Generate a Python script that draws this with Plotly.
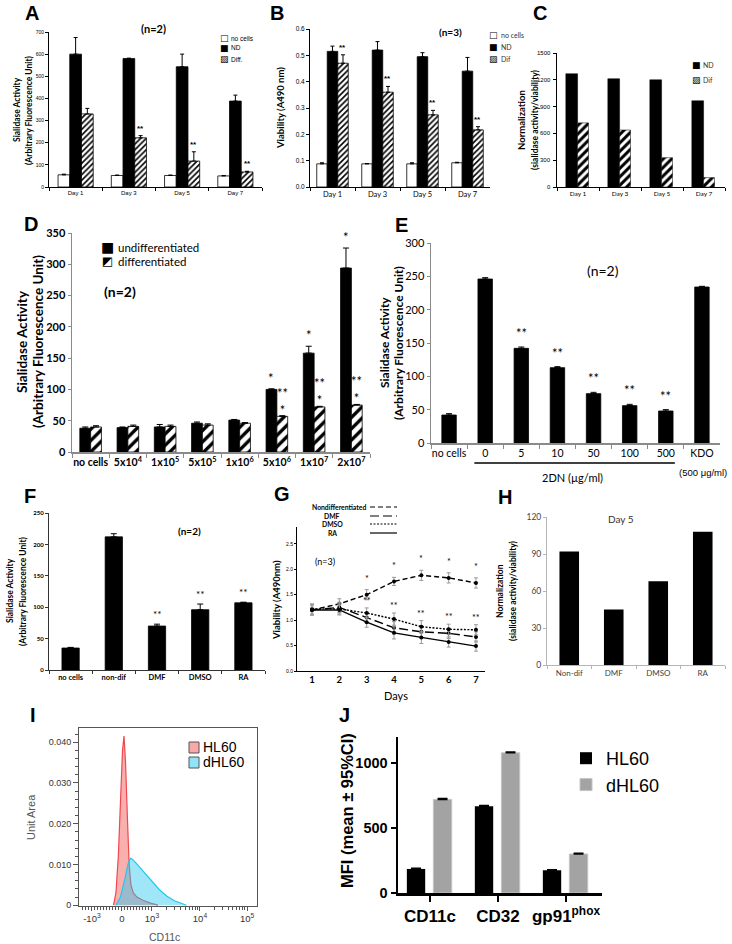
import math
import plotly.graph_objects as go

W, H = 732, 944
ARIAL = "Liberation Sans, Arial, sans-serif"
CAL = "Lato, Liberation Sans, sans-serif"
DJV = "DejaVu Sans, sans-serif"

# ---------------- data ----------------
days = ["Day 1", "Day 3", "Day 5", "Day 7"]
a_nocells = [55, 52, 52, 50]
a_nocells_err = [3, 2, 2, 2]
a_nd = [600, 580, 543, 388]
a_nd_err = [75, 2, 57, 27]
a_diff = [330, 222, 117, 68]
a_diff_err = [25, 10, 42, 3]
a_sig = ["", "**", "**", "**"]

b_nocells = [0.088, 0.088, 0.088, 0.092]
b_nocells_err = [0.004, 0.001, 0.004, 0.002]
b_nd = [0.515, 0.52, 0.495, 0.44]
b_nd_err = [0.02, 0.032, 0.015, 0.052]
b_dif = [0.47, 0.36, 0.274, 0.217]
b_dif_err = [0.032, 0.022, 0.017, 0.012]
b_sig = ["**", "**", "**", "**"]

c_nd = [1268, 1212, 1200, 965]
c_dif = [718, 638, 328, 105]
c_ticks = [0, 300, 600, 900, 1200, 1500]

d_cats = ["no cells", "5x10<sup>4</sup>", "1x10<sup>5</sup>", "5x10<sup>5</sup>",
          "1x10<sup>6</sup>", "5x10<sup>6</sup>", "1x10<sup>7</sup>", "2x10<sup>7</sup>"]
d_undiff = [38, 39, 40, 46, 51, 100, 158, 294]
d_undiff_err = [2, 1, 4, 2, 1, 1, 11, 32]
d_diff = [40, 41, 41, 43, 46, 57, 72, 75]
d_diff_err = [2, 2, 2, 2, 1, 1, 1, 1]
d_sig_u = ["", "", "", "", "", "*", "*", "*"]
d_sig_d = ["", "", "", "", "", "**<br>*", "**<br>*", "**<br>*"]

e_cats = ["no cells", "0", "5", "10", "50", "100", "500", "KDO"]
e_kdo_note = "(500 μg/ml)"
e_vals = [42, 246, 142, 113, 74, 56, 48, 234]
e_err = [2, 2, 2, 1.5, 2, 2, 2, 1]
e_sig = ["", "", "**", "**", "**", "**", "**", ""]

f_cats = ["no cells", "non-dif", "DMF", "DMSO", "RA"]
f_vals = [35, 212, 70, 96, 107]
f_err = [1, 5, 3, 9, 1]
f_sig = ["", "", "**", "**", "**"]

g_days = [1, 2, 3, 4, 5, 6, 7]
g_nondiff = [1.2, 1.32, 1.5, 1.76, 1.88, 1.83, 1.73]
g_nondiff_err = [0.1, 0.1, 0.1, 0.08, 0.1, 0.1, 0.1]
g_dmf = [1.2, 1.25, 1.05, 0.85, 0.77, 0.74, 0.67]
g_dmso = [1.22, 1.22, 1.14, 1.02, 0.87, 0.82, 0.81]
g_ra = [1.2, 1.2, 0.96, 0.75, 0.66, 0.57, 0.49]
g_err = [0.1, 0.1, 0.1, 0.12, 0.12, 0.1, 0.1]
g_sig_nd = ["", "", "*", "*", "*", "*", "*"]
g_sig_dmso = ["", "", "**", "**", "**", "**", "**"]

h_cats = ["Non-dif", "DMF", "DMSO", "RA"]
h_vals = [92, 45, 68, 108]

# CD11c histograms (display coordinate of the biexponential axis, unit area)
i_hl60_x = [-0.28, -0.2, -0.12, -0.05, 0.02, 0.07, 0.12, 0.18, 0.24, 0.3, 0.38, 0.5, 0.7, 0.95, 1.2]
i_hl60_y = [0, 0.003, 0.012, 0.026, 0.038, 0.0415, 0.035, 0.022, 0.010, 0.005, 0.003, 0.002, 0.0012, 0.0005, 0]
i_dhl60_x = [-0.2, -0.05, 0.1, 0.2, 0.28, 0.35, 0.45, 0.6, 0.8, 1.0, 1.25, 1.5, 1.75, 2.0, 2.15]
i_dhl60_y = [0, 0.002, 0.0065, 0.0100, 0.0115, 0.0113, 0.0105, 0.0092, 0.0075, 0.0058, 0.0038, 0.0022, 0.0011, 0.0004, 0]
i_tickvals = [-1, 0, 1, 2.6, 4.17]
i_ticktext = ["-10<sup>3</sup>", "0", "10<sup>3</sup>", "10<sup>4</sup>", "10<sup>5</sup>"]

j_cats = ["CD11c", "CD32", "gp91<sup>phox</sup>"]
j_hl60 = [185, 668, 175]
j_hl60_err = [5, 5, 4]
j_dhl60 = [720, 1078, 300]
j_dhl60_err = [7, 7, 6]

# ---------------- helpers ----------------
fig = go.Figure()
layout = {}
ann = []
shapes = []


def xid(n):
    return "x" if n == 1 else f"x{n}"


def yid(n):
    return "y" if n == 1 else f"y{n}"


def axes(n, x0, x1, top, bottom, xkw, ykw):
    xs = "xaxis" if n == 1 else f"xaxis{n}"
    ys = "yaxis" if n == 1 else f"yaxis{n}"
    common = dict(showgrid=False, zeroline=False, automargin=False, ticklabeloverflow="allow", fixedrange=True)
    layout[xs] = dict(domain=[x0 / W, x1 / W], anchor=yid(n), **common, **xkw)
    layout[ys] = dict(domain=[1 - bottom / H, 1 - top / H], anchor=xid(n), **common, **ykw)


def text(x, y, s, size, family=ARIAL, color="black", bold=False, angle=0, xanchor="center", yanchor="middle"):
    ann.append(dict(x=x / W, y=1 - y / H, xref="paper", yref="paper", text=s, showarrow=False,
                    font=dict(size=size, family=family, color=color, weight="bold" if bold else "normal"),
                    textangle=angle, xanchor=xanchor, yanchor=yanchor))


def bar(n, x, y, err, width, offset, color="black", pattern=None, lw=0.8, ew=2):
    kw = {}
    if err is not None:
        kw["error_y"] = dict(type="data", array=err, arrayminus=[0] * len(err), symmetric=False,
                             color="black", thickness=1, width=ew)
    marker = dict(color=color, line=dict(color="black", width=lw))
    if pattern:
        marker["pattern"] = pattern
    fig.add_trace(go.Bar(x=x, y=y, width=width, offset=offset, xaxis=xid(n), yaxis=yid(n),
                         marker=marker, showlegend=False, **kw))


def sig(n, centers, tops, labels, size, family=ARIAL, bold=False, yshift=1):
    for xc, yt, s in zip(centers, tops, labels):
        if s:
            ann.append(dict(x=xc, y=yt, xref=xid(n), yref=yid(n), text=s, showarrow=False,
                            yanchor="bottom", yshift=yshift,
                            font=dict(size=size, family=family, color="black",
                                      weight="bold" if bold else "normal")))


def cat_axis(size, family=ARIAL, lc="black", lw=1, bold=False, color="black", tickson="boundaries", ticklen=3):
    return dict(type="category", showline=True, linecolor=lc, linewidth=lw, ticks="outside",
                tickson=tickson, ticklen=ticklen, tickcolor=lc, tickangle=0,
                tickfont=dict(size=size, family=family, color=color, weight="bold" if bold else "normal"))


def val_axis(rng, step, size, family=ARIAL, lc="black", lw=1, bold=False, color="black", ticklen=3, fmt=None):
    vals = []
    v = rng[0]
    while v <= rng[1] + 1e-9:
        vals.append(round(v, 6))
        v += step
    labels = [(format(t, fmt) if fmt else f"{t:g}") for t in vals]
    return dict(range=rng, tickvals=vals, ticktext=labels, showline=True, linecolor=lc, linewidth=lw,
                ticks="outside", ticklen=ticklen, tickcolor=lc, showticklabels=True,
                tickfont=dict(size=size, family=family, color=color, weight="bold" if bold else "normal"))


fine_hatch = dict(shape="/", fgcolor="black", bgcolor="white", size=4, solidity=0.4)
bold_hatch = dict(shape="/", fgcolor="black", bgcolor="white", size=6, solidity=0.5)

# ---------------- Panel A ----------------
bar(1, days, a_nocells, a_nocells_err, 0.22, -0.33, "white")
bar(1, days, a_nd, a_nd_err, 0.22, -0.11, "black")
bar(1, days, a_diff, a_diff_err, 0.22, 0.11, "white", fine_hatch)
axes(1, 49, 262, 32, 187, cat_axis(6), val_axis([0, 700], 100, 5))
sig(1, [i + 0.22 for i in range(4)], [v + e for v, e in zip(a_diff, a_diff_err)], a_sig, 8, bold=True)
text(32, 13, "A", 20, bold=True)
text(153, 29, "(n=2)", 11, CAL, bold=True)
text(17, 110, "Sialidase Activity", 8.5, CAL, bold=True, angle=-90)
text(29, 110, "(Arbitrary Fluorescence Unit)", 8.5, CAL, bold=True, angle=-90)
for yy, sym, lab in [(38, "□", "no cells"), (48, "■", "ND"), (59, "▨", "Diff.")]:
    text(224, yy, sym, 9, DJV)
    text(229, yy, lab, 6.5, xanchor="left")

# ---------------- Panel B ----------------
bar(2, days, b_nocells, b_nocells_err, 0.233, -0.35, "white")
bar(2, days, b_nd, b_nd_err, 0.233, -0.117, "black")
bar(2, days, b_dif, b_dif_err, 0.233, 0.117, "white", fine_hatch)
axes(2, 310, 490, 29, 187, cat_axis(7.5, CAL), val_axis([0, 0.6], 0.1, 6.5, fmt=".1f"))
sig(2, [i + 0.233 for i in range(4)], [v + e for v, e in zip(b_dif, b_dif_err)], b_sig, 8, bold=True)
text(277, 13, "B", 20, bold=True)
text(450, 32, "(n=3)", 10, CAL, bold=True)
text(280, 108, "Viability (A490 nm)", 9.5, CAL, bold=True, angle=-90)
for yy, sym, lab in [(35, "□", "no cells"), (47, "■", "ND"), (59, "▨", "Dif")]:
    text(493, yy, sym, 9, DJV)
    text(499, yy, lab, 7, CAL, color="#333", xanchor="left")

# ---------------- Panel C ----------------
bar(3, days, c_nd, None, 0.28, -0.29, "black", lw=0.5)
bar(3, days, c_dif, None, 0.26, -0.01, "white", bold_hatch, lw=0.5)
c_y = val_axis([0, 1500], 300, 6)
c_y["showticklabels"] = False
axes(3, 557, 725, 53, 187, cat_axis(6.5, CAL), c_y)
for t in c_ticks:
    ann.append(dict(x=553 / W, y=t, xref="paper", yref="y3", text=f"{t}", showarrow=False,
                    xanchor="right", yanchor="middle", font=dict(size=6, family=ARIAL, color="black")))
text(540, 13, "C", 20, bold=True)
text(521, 120, "Normalization", 9.5, CAL, bold=True, angle=-90)
text(535, 120, "(sialidase activity/viability)", 8.5, CAL, bold=True, angle=-90)
for yy, sym, lab in [(65, "■", "ND"), (80, "▨", "Dif")]:
    text(696, yy, sym, 9, DJV)
    text(701, yy, lab, 7, CAL, color="#333", xanchor="left")

# ---------------- Panel D ----------------
bar(4, d_cats, d_undiff, d_undiff_err, 0.29, -0.29, "black", ew=3)
bar(4, d_cats, d_diff, d_diff_err, 0.29, 0.0, "white",
    dict(shape="/", fgcolor="black", bgcolor="white", size=8, solidity=0.42), ew=3)
axes(4, 72, 370, 233, 452, cat_axis(10.5, CAL, lc="#8a8a8a", lw=1.5, bold=True, ticklen=4),
     val_axis([0, 350], 50, 11, CAL, lc="#8a8a8a", lw=1.5, bold=True, ticklen=3))
sig(4, [i - 0.145 for i in range(8)], [v + e for v, e in zip(d_undiff, d_undiff_err)], d_sig_u, 13, CAL)
sig(4, [i + 0.145 for i in range(8)], [v + e for v, e in zip(d_diff, d_diff_err)], d_sig_d, 13, CAL, yshift=-4)
text(31, 224, "D", 20, bold=True)
text(120, 291, "(n=2)", 14, CAL, bold=True)
text(22, 342, "Sialidase Activity", 13.5, CAL, bold=True, angle=-90)
text(38, 342, "(Arbitrary Fluorescence Unit)", 13.5, CAL, bold=True, angle=-90)
text(107, 247, "■", 14, DJV)
text(116, 247, "undifferentiated", 11.5, CAL, xanchor="left")
text(107, 261, "◩", 12, DJV)
text(116, 261, "differentiated", 11.5, CAL, xanchor="left")

# ---------------- Panel E ----------------
bar(5, e_cats, e_vals, e_err, 0.4, -0.2, "black", ew=3)
axes(5, 431, 720, 243, 443, cat_axis(10.5, CAL, lc="#8a8a8a", lw=1.5, ticklen=4),
     val_axis([0, 300], 50, 11, CAL, lc="#8a8a8a", lw=1.5, ticklen=3))
sig(5, list(range(8)), [v + e for v, e in zip(e_vals, e_err)], e_sig, 13, CAL, yshift=4)
text(401, 225, "E", 20, bold=True)
text(603, 270, "(n=2)", 14, CAL)
text(384, 343, "Sialidase Activity", 12, CAL, bold=True, angle=-90)
text(398, 343, "(Arbitrary Fluorescence Unit)", 12, CAL, bold=True, angle=-90)
shapes.append(dict(type="line", xref="x5", yref="paper", x0=0.7, x1=6.25, y0=1 - 463 / H, y1=1 - 463 / H,
                   line=dict(color="black", width=1.5)))
text(572, 477, "2DN (µg/ml)", 11, CAL)
text(703, 472, e_kdo_note, 9.5, ARIAL)

# ---------------- Panel F ----------------
bar(6, f_cats, f_vals, f_err, 0.4, -0.2, "black", ew=3)
axes(6, 49, 265, 513, 670, cat_axis(7.5, CAL, lc="#333", bold=True),
     val_axis([0, 250], 50, 6, CAL, lc="#333", bold=True))
sig(6, list(range(5)), [v + e for v, e in zip(f_vals, f_err)], f_sig, 10, CAL, yshift=2)
text(30, 496, "F", 20, bold=True)
text(189, 531, "(n=2)", 10, CAL, bold=True)
text(10, 591, "Sialidase Activity", 8.5, CAL, bold=True, angle=-90)
text(23, 591, "(Arbitrary Fluorescence Unit)", 8.5, CAL, bold=True, angle=-90)

# ---------------- Panel G ----------------
g_series = [("Nondifferentiated", g_nondiff, g_nondiff_err, "5px,3px"),
            ("DMF", g_dmf, g_err, "9px,4px"),
            ("DMSO", g_dmso, g_err, "2px,1.5px"),
            ("RA", g_ra, g_err, "solid")]
for name, vals, errs, dash in g_series:
    fig.add_trace(go.Scatter(x=g_days, y=vals, mode="lines+markers", name=name, xaxis="x7", yaxis="y7",
                             line=dict(color="black", width=1.4, dash=dash),
                             marker=dict(size=4, color="black"),
                             error_y=dict(type="data", array=errs, color="#9a9a9a", thickness=1, width=2),
                             showlegend=False))
axes(7, 297, 485, 527, 671,
     dict(range=[0.45, 7.33], tickvals=g_days, showline=True, linecolor="black", linewidth=1, ticks="",
          tickfont=dict(size=9.5, family=CAL, color="black", weight="bold")),
     val_axis([0, 2.5], 0.5, 5, lc="black", ticklen=2, fmt=".1f") | dict(range=[0, 2.83]))
sig(7, g_days, [v + e for v, e in zip(g_nondiff, g_nondiff_err)], g_sig_nd, 9, CAL, yshift=4)
sig(7, g_days, [v + e for v, e in zip(g_dmso, g_err)], g_sig_dmso, 9, CAL, yshift=0)
text(282, 494, "G", 20, bold=True)
text(325, 561, "(n=3)", 9, CAL)
text(276, 600, "Viability (A490nm)", 9.5, CAL, bold=True, angle=-90)
text(396, 695, "Days", 11, CAL)
g_leg = [("Nondifferentiated", 507, "5px,3px", 368, "right"), ("DMF", 516, "9px,4px", 332, "center"),
         ("DMSO", 524, "2px,1.5px", 332, "center"), ("RA", 533, "solid", 332, "center")]
for lab, yy, dash, tx, anc in g_leg:
    text(tx, yy, lab, 6.8, CAL, bold=True, xanchor=anc)
    shapes.append(dict(type="line", xref="paper", yref="paper", x0=370 / W, x1=397 / W,
                       y0=1 - yy / H, y1=1 - yy / H, line=dict(color="black", width=1.2, dash=dash)))

# ---------------- Panel H ----------------
bar(8, h_cats, h_vals, None, 0.44, -0.22, "black", lw=0)
axes(8, 547, 725, 517, 665, cat_axis(8, CAL, lc="#b5b5b5", color="#444"),
     val_axis([0, 120], 30, 8.5, CAL, lc="#b5b5b5", color="#444"))
text(505, 497, "H", 20, bold=True)
text(621, 519, "Day 5", 10, CAL, color="#333")
text(500, 591, "Normalization", 8.5, CAL, bold=True, angle=-90)
text(513, 591, "(sialidase activity/viability)", 8.5, CAL, bold=True, angle=-90)

# ---------------- Panel I ----------------
fig.add_trace(go.Scatter(x=i_hl60_x, y=i_hl60_y, mode="lines", fill="tozeroy", name="HL60",
                         xaxis="x9", yaxis="y9", line=dict(color="#f0484e", width=1.2),
                         fillcolor="rgba(245,110,110,0.55)", showlegend=False))
fig.add_trace(go.Scatter(x=i_dhl60_x, y=i_dhl60_y, mode="lines", fill="tozeroy", name="dHL60",
                         xaxis="x9", yaxis="y9", line=dict(color="#20c8f0", width=1.2),
                         fillcolor="rgba(40,200,240,0.45)", showlegend=False))
x_minor = [-0.9 + 0.1 * k for k in range(9)] + [0.1 * k for k in range(1, 10)]
x_minor += [1 + 1.6 * math.log10(k) for k in range(2, 10)] + [2.6 + 1.57 * math.log10(k) for k in range(2, 10)]
x_minor += [-1 - 0.1 * k for k in range(1, 4)]
axes(9, 79, 257, 728, 906,
     dict(range=[-1.43, 4.5], tickvals=i_tickvals, ticktext=i_ticktext, showline=True, mirror=True,
          linecolor="#555", linewidth=1, ticks="outside", ticklen=4, tickcolor="#555",
          tickfont=dict(size=9.5, family=ARIAL, color="#333"),
          minor=dict(tickvals=x_minor, ticks="outside", ticklen=3, tickcolor="#555")),
     dict(range=[-0.0002, 0.0435], tickvals=[0, 0.01, 0.02, 0.03, 0.04],
          ticktext=["0", "0.010", "0.020", "0.030", "0.040"], showline=True, mirror=True,
          linecolor="#555", linewidth=1, ticks="outside", ticklen=5, tickcolor="#555",
          tickfont=dict(size=9, family=ARIAL, color="#333"),
          minor=dict(tickmode="linear", tick0=0, dtick=0.002, ticks="outside", ticklen=3, tickcolor="#555")))
text(33, 715, "I", 20, bold=True)
text(31, 817, "Unit Area", 11, ARIAL, color="#555", angle=-90)
text(164, 937, "CD11c", 10.5, ARIAL, color="#555")
for (y0, y1, fc), lab, yy in [((742, 753, "rgba(245,110,110,0.6)"), "HL60", 747),
                               ((757, 768, "rgba(40,200,240,0.5)"), "dHL60", 762)]:
    shapes.append(dict(type="rect", xref="paper", yref="paper", x0=189 / W, x1=199 / W,
                       y0=1 - y1 / H, y1=1 - y0 / H, fillcolor=fc, line=dict(color="#555", width=1)))
    text(201, yy, lab, 14, ARIAL, xanchor="left")

# ---------------- Panel J ----------------
fig.add_trace(go.Bar(x=j_cats, y=j_hl60, width=0.27, offset=-0.34, name="HL60", xaxis="x10", yaxis="y10",
                     marker=dict(color="black", line=dict(width=0)), legend="legend",
                     error_y=dict(type="data", array=j_hl60_err, arrayminus=[0] * 3, symmetric=False,
                                  color="black", thickness=1.5, width=5)))
fig.add_trace(go.Bar(x=j_cats, y=j_dhl60, width=0.27, offset=0.05, name="dHL60", xaxis="x10", yaxis="y10",
                     marker=dict(color="#a3a3a3", line=dict(color="#c4c4c4", width=1)), legend="legend",
                     error_y=dict(type="data", array=j_dhl60_err, arrayminus=[0] * 3, symmetric=False,
                                  color="black", thickness=1.5, width=5)))
axes(10, 398, 602, 737, 893,
     dict(type="category", range=[-0.47, 2.53], showline=True, linecolor="black", linewidth=2.5,
          ticks="outside", ticklen=6, tickwidth=2, tickcolor="black", tickangle=0,
          tickfont=dict(size=17, family=ARIAL, color="black", weight="bold")),
     dict(range=[0, 1200], tickvals=[0, 500, 1000], showline=True, linecolor="black", linewidth=2.5,
          ticks="outside", ticklen=5, tickwidth=2, tickcolor="black",
          tickfont=dict(size=14.5, family=ARIAL, color="black", weight="bold")))
text(344, 715, "J", 20, bold=True)
text(347, 811, "MFI (mean ± 95%CI)", 16.5, ARIAL, bold=True, angle=-90)

fig.update_layout(
    template="none",
    width=W, height=H, autosize=False,
    margin=dict(l=0, r=0, t=0, b=0),
    paper_bgcolor="white", plot_bgcolor="white",
    font=dict(color="black", family=ARIAL),
    barmode="overlay",
    hovermode=False,
    annotations=ann, shapes=shapes,
    legend=dict(x=566 / W, y=1 - 740 / H, xanchor="left", yanchor="top", bgcolor="rgba(0,0,0,0)",
                font=dict(size=18, family=ARIAL, color="black"), tracegroupgap=0, itemclick=False),
    **layout,
)
fig.write_html("out.html", config={"displayModeBar": False, "staticPlot": True},
               post_script="document.body.style.margin='0';document.body.style.overflow='hidden';")
